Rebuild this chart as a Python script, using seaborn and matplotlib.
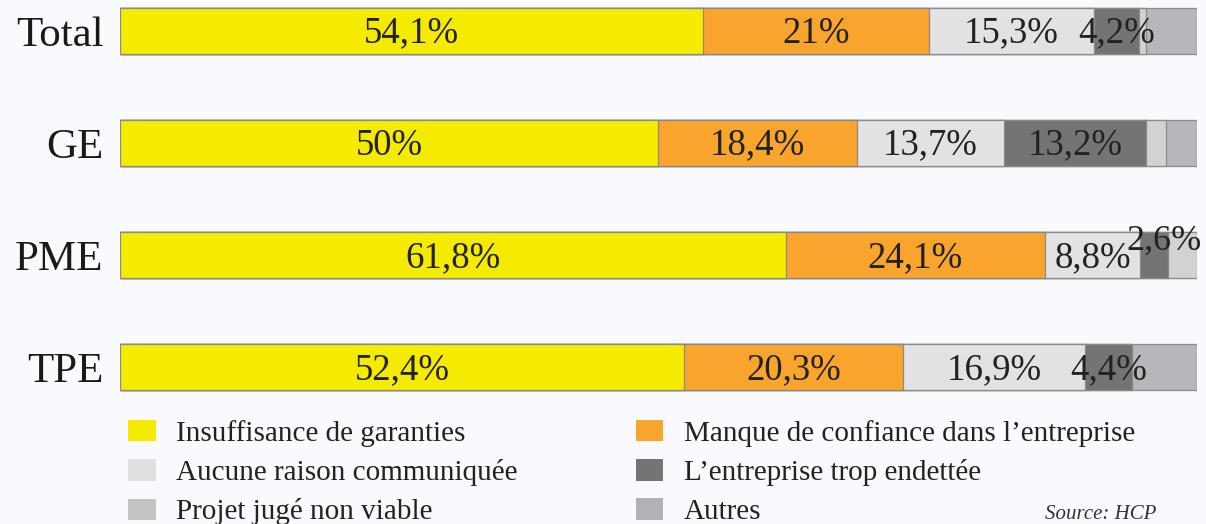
import pandas as pd
import matplotlib.pyplot as plt
import seaborn as sns
from matplotlib.patches import Patch

# ===== DATA =====
categories = ["Total", "GE", "PME", "TPE"]
series = [
    "Insuffisance de garanties",
    "Aucune raison communiquée",
    "Projet jugé non viable",
    "Manque de confiance dans l\u2019entreprise",
    "L\u2019entreprise trop endettée",
    "Autres",
]
insuffisance = [54.1, 50.0, 61.8, 52.4]
confiance = [21.0, 18.4, 24.1, 20.3]
aucune = [15.3, 13.7, 8.8, 16.9]
endettee = [4.2, 13.2, 2.6, 4.4]
projet = [0.7, 1.8, 2.7, 0.0]
autres = [4.7, 2.9, 0.0, 6.0]
labels_insuff = ["54,1%", "50%", "61,8%", "52,4%"]
labels_conf = ["21%", "18,4%", "24,1%", "20,3%"]
labels_aucune = ["15,3%", "13,7%", "8,8%", "16,9%"]
labels_endet = ["4,2%", "13,2%", "2,6%", "4,4%"]

# ordre d'empilement (gauche -> droite)
stack = [
    ("Insuffisance de garanties", insuffisance, "#f5eb00", labels_insuff),
    ("Manque de confiance dans l\u2019entreprise", confiance, "#f9a42c", labels_conf),
    ("Aucune raison communiquée", aucune, "#e2e2e4", labels_aucune),
    ("L\u2019entreprise trop endettée", endettee, "#747477", labels_endet),
    ("Projet jugé non viable", projet, "#d2d2d5", None),
    ("Autres", autres, "#b7b7bb", None),
]
legend_colors = {
    "Insuffisance de garanties": "#f5eb00",
    "Aucune raison communiquée": "#e0e0e2",
    "Projet jugé non viable": "#c4c4c7",
    "Manque de confiance dans l\u2019entreprise": "#f9a42c",
    "L\u2019entreprise trop endettée": "#747477",
    "Autres": "#b2b2b6",
}

df = pd.DataFrame({"cat": categories})
cum = [0.0] * len(categories)
starts = []
for name, vals, col, lab in stack:
    starts.append(list(cum))
    cum = [c + v for c, v in zip(cum, vals)]
    df[name] = cum

# ===== STYLE =====
sns.set_theme(style="white")
plt.rcParams["font.family"] = ["Liberation Serif", "DejaVu Serif"]

fig = plt.figure(figsize=(12.06, 5.24), dpi=100, facecolor="#f8fafd")
ax = fig.add_axes([0.0995, 1 - 400 / 524, 1077 / 1206, 400 / 524])
ax.set_facecolor("none")

# barres cumulées, de la plus longue à la plus courte
for name, vals, col, lab in reversed(stack):
    sns.barplot(data=df, x=name, y="cat", color=col, orient="h", width=0.41,
                edgecolor="#8a8a8a", linewidth=0.9, saturation=1, ax=ax)

# étiquettes au centre des segments
for (name, vals, col, lab), st in zip(stack, starts):
    if lab is None:
        continue
    for i, (s, v, t) in enumerate(zip(st, vals, lab)):
        if v < 3:
            ax.text(s - 1.3, i - 0.13, t, ha="left", va="center",
                    fontsize=26, color="#222222")
        else:
            ax.text(s + v / 2, i + 0.02, t, ha="center", va="center",
                    fontsize=26.5, color="#222222")

ax.set_xlim(0, 100)
ax.set_ylim(3 + 32.5 / 112, -31 / 112)
ax.set_xlabel("")
ax.set_ylabel("")
ax.set_xticks([])
ax.tick_params(axis="y", length=0, pad=12, labelsize=31, labelcolor="#1a1a1a")
sns.despine(ax=ax, left=True, bottom=True)

# ===== LEGENDE =====
handles = [Patch(facecolor=legend_colors[s], edgecolor="none") for s in series]
fig.legend(handles, series, ncol=2, loc="upper left",
           bbox_to_anchor=(128 / 1206, 1 - 420 / 524), frameon=False,
           borderpad=0, borderaxespad=0,
           fontsize=21, handlelength=0.95, handleheight=0.75, handletextpad=0.7,
           labelspacing=0.42, columnspacing=4.05, labelcolor="#222222")

fig.text(1045 / 1206, 1 - 505 / 524, "Source: HCP", fontsize=15, style="italic",
         color="#333333", ha="left", va="top")

fig.savefig("out.png", dpi=100, facecolor=fig.get_facecolor())
